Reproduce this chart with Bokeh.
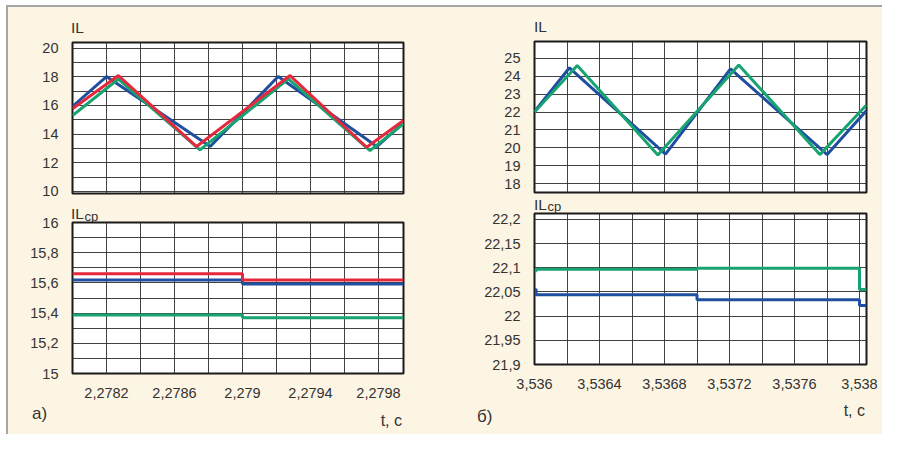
from bokeh.plotting import figure
from bokeh.layouts import row, column
from bokeh.models import FixedTicker, Range1d, Div
from bokeh.embed import file_html
from bokeh.resources import INLINE

# ---------------- data: panel a) ----------------
t_a_blue = [2.27800, 2.27820, 2.27881, 2.27921, 2.27979, 2.279947]
il_a_blue = [15.93, 18.02, 13.13, 18.02, 13.13, 14.79]
t_a_red = [2.27800, 2.27827, 2.27873, 2.27928, 2.27973, 2.279947]
il_a_red = [15.77, 18.09, 13.13, 18.09, 13.08, 14.95]
t_a_green = [2.27800, 2.27827, 2.27875, 2.27927, 2.27975, 2.279947]
il_a_green = [15.30, 17.85, 12.90, 17.86, 12.85, 14.72]

t_a_avg = [2.27800, 2.27900, 2.279947]
ilcp_a_blue = [15.62, 15.593, 15.593]
ilcp_a_red = [15.66, 15.62, 15.62]
ilcp_a_green = [15.387, 15.369, 15.369]

# ---------------- data: panel б) ----------------
t_b_blue = [3.53600, 3.536215, 3.536806, 3.537206, 3.537801, 3.538043]
il_b_blue = [22.03, 24.48, 19.65, 24.42, 19.62, 22.09]
t_b_green = [3.53600, 3.536263, 3.536759, 3.537257, 3.537756, 3.538043]
il_b_green = [22.00, 24.61, 19.60, 24.64, 19.62, 22.40]

t_b_avg = [3.53600, 3.53601, 3.53700, 3.53800, 3.538043]
ilcp_b_blue = [22.055, 22.044, 22.034, 22.022, 22.022]
ilcp_b_green = [22.093, 22.097, 22.099, 22.055, 22.055]

# ---------------- ticks / labels ----------------
a_il_ticks = [10, 12, 14, 16, 18, 20]
a_il_labels = ["10", "12", "14", "16", "18", "20"]
a_il_grid = [10, 11, 12, 13, 14, 15, 16, 17, 18, 19, 20]
a_ilcp_ticks = [15.0, 15.2, 15.4, 15.6, 15.8, 16.0]
a_ilcp_labels = ["15", "15,2", "15,4", "15,6", "15,8", "16"]
a_ilcp_grid = [15.0, 15.1, 15.2, 15.3, 15.4, 15.5, 15.6, 15.7, 15.8, 15.9, 16.0]
a_t_ticks = [2.2782, 2.2786, 2.2790, 2.2794, 2.2798]
a_t_labels = ["2,2782", "2,2786", "2,279", "2,2794", "2,2798"]
a_t_grid = [2.2780, 2.2782, 2.2784, 2.2786, 2.2788, 2.2790, 2.2792, 2.2794, 2.2796, 2.2798]

b_il_ticks = [18, 19, 20, 21, 22, 23, 24, 25]
b_il_labels = ["18", "19", "20", "21", "22", "23", "24", "25"]
b_ilcp_ticks = [21.9, 21.95, 22.0, 22.05, 22.1, 22.15, 22.2]
b_ilcp_labels = ["21,9", "21,95", "22", "22,05", "22,1", "22,15", "22,2"]
b_t_ticks = [3.536, 3.5364, 3.5368, 3.5372, 3.5376, 3.538]
b_t_labels = ["3,536", "3,5364", "3,5368", "3,5372", "3,5376", "3,538"]
b_t_grid = [3.5360, 3.5362, 3.5364, 3.5366, 3.5368, 3.5370, 3.5372, 3.5374,
            3.5376, 3.5378, 3.5380]

# ---------------- styles ----------------
BLUE = "#1f4f9f"
RED = "#e6283c"
GREEN = "#17a470"
CREAM = "#fdf5e4"
GRIDC = "#2e2e2e"
TXT = "#333333"
FONT = "Liberation Sans"
LW = 3


def make_fig(xr, yr, w, h, left, right, top, bottom, xticks, xlabels, xgrid,
             yticks, ylabels, ygrid, show_x):
    p = figure(width=w, height=h, x_range=Range1d(*xr), y_range=Range1d(*yr),
               output_backend="svg", toolbar_location=None,
               min_border_left=left, min_border_right=right,
               min_border_top=top, min_border_bottom=bottom)
    p.border_fill_color = None          # cream of the panel shows through
    p.background_fill_color = "white"
    p.outline_line_color = "#1a1a1a"
    p.outline_line_width = 2
    for ax in (p.xaxis[0], p.yaxis[0]):
        ax.axis_line_color = None
        ax.major_tick_line_color = None
        ax.minor_tick_line_color = None
        ax.major_label_text_font = FONT
        ax.major_label_text_font_size = "14.5px"
        ax.major_label_text_color = TXT
        ax.major_label_standoff = 8
    p.xaxis[0].ticker = FixedTicker(ticks=xticks)
    p.xaxis[0].major_label_overrides = dict(zip(xticks, xlabels))
    p.yaxis[0].ticker = FixedTicker(ticks=yticks)
    p.yaxis[0].major_label_overrides = dict(zip(yticks, ylabels))
    p.xaxis[0].visible = show_x
    p.xgrid[0].ticker = FixedTicker(ticks=xgrid)
    p.ygrid[0].ticker = FixedTicker(ticks=ygrid)
    for g in (p.xgrid[0], p.ygrid[0]):
        g.grid_line_color = GRIDC
        g.grid_line_width = 1
        g.grid_line_alpha = 0.9
    return p


def text_div(w, h, items):
    """items: (text, font_px, left_or_None, right_or_None, baseline_y)"""
    spans = []
    for text, fs, left, right, base in items:
        top = base - 0.8465 * fs
        pos = f"left:{left}px;" if left is not None else f"right:{right}px;"
        spans.append(
            f'<span style="position:absolute;{pos}top:{top:.1f}px;'
            f"font-family:'{FONT}';font-size:{fs}px;line-height:{fs}px;"
            f'color:{TXT};white-space:nowrap;">{text}</span>')
    html = (f'<div style="position:relative;width:{w}px;height:{h}px;'
            f'overflow:visible;">' + "".join(spans) + "</div>")
    return Div(text=html, width=w, height=h, margin=(0, 0, 0, 0),
               styles={"overflow": "visible"})


a_xr = (2.27800, 2.279947)
b_xr = (3.53600, 3.538043)
WA = 442
WB = 432

# ---------- panel a) ----------
da1 = text_div(WA, 30, [("IL", 15.5, 63, None, 26)])
pa1 = make_fig(a_xr, (9.85, 20.4), WA, 161, 64, 47, 5, 5,
               a_t_ticks, a_t_labels, a_t_grid,
               a_il_ticks, a_il_labels, a_il_grid, False)
pa1.line(t_a_blue, il_a_blue, line_color=BLUE, line_width=LW)
pa1.line(t_a_green, il_a_green, line_color=GREEN, line_width=LW)
pa1.line(t_a_red, il_a_red, line_color=RED, line_width=LW)

da2 = text_div(WA, 15, [("IL", 15.5, 63, None, 21), ("cp", 13, 76.5, None, 23)])
pa2 = make_fig(a_xr, (15.0, 16.0), WA, 190, 64, 47, 9, 30,
               a_t_ticks, a_t_labels, a_t_grid,
               a_ilcp_ticks, a_ilcp_labels, a_ilcp_grid, True)
pa2.step(t_a_avg, ilcp_a_green, mode="after", line_color=GREEN, line_width=LW)
pa2.step(t_a_avg, ilcp_a_blue, mode="after", line_color=BLUE, line_width=LW)
pa2.step(t_a_avg, ilcp_a_red, mode="after", line_color=RED, line_width=LW)

da3 = text_div(WA, 31, [("a)", 17, 24, None, 16), ("t, c", 16, None, 48, 23)])

# ---------- panel б) ----------
db1 = text_div(WB, 29, [("IL", 15.5, 84, None, 25)])
pb1 = make_fig(b_xr, (17.5, 25.95), WB, 158, 84, 16, 5, 2,
               b_t_ticks, b_t_labels, b_t_grid,
               b_il_ticks, b_il_labels, b_il_ticks, False)
pb1.line(t_b_blue, il_b_blue, line_color=BLUE, line_width=LW)
pb1.line(t_b_green, il_b_green, line_color=GREEN, line_width=LW)

db2 = text_div(WB, 10, [("IL", 15.5, 84, None, 14), ("cp", 13, 97.5, None, 15)])
pb2 = make_fig(b_xr, (21.9, 22.212), WB, 190, 84, 16, 9, 30,
               b_t_ticks, b_t_labels, b_t_grid,
               b_ilcp_ticks, b_ilcp_labels, b_ilcp_ticks, True)
pb2.step(t_b_avg, ilcp_b_blue, mode="after", line_color=BLUE, line_width=LW)
pb2.step(t_b_avg, ilcp_b_green, mode="after", line_color=GREEN, line_width=LW)

db3 = text_div(WB, 40, [("б)", 17, 27, None, 28), ("t, c", 16, None, 17, 22)])

inner = row(column(da1, pa1, da2, pa2, da3), column(db1, pb1, db2, pb2, db3),
            styles={"border-top": "2px solid #a6a6a6",
                    "border-left": "2px solid #a6a6a6",
                    "background-color": CREAM})
layout = column(inner, styles={"padding-left": "6px", "padding-top": "5px"})

open("out.html", "w").write(file_html(layout, INLINE))
